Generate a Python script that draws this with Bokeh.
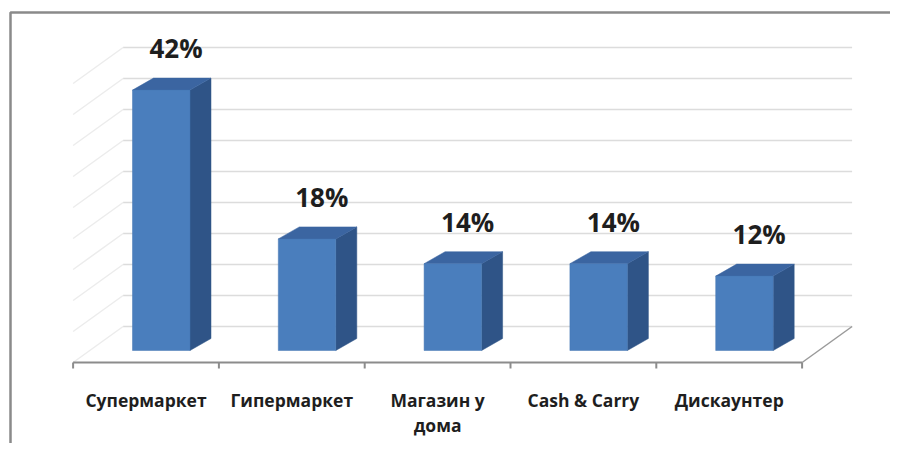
from bokeh.plotting import figure
from bokeh.models import Range1d
from bokeh.core.properties import value
from bokeh.embed import file_html
from bokeh.resources import INLINE

# ---- data ----
categories = ["Супермаркет", "Гипермаркет", "Магазин у дома", "Cash & Carry", "Дискаунтер"]
tick_labels = ["Супермаркет", "Гипермаркет", "Магазин у\nдома", "Cash & Carry", "Дискаунтер"]
shares = [42, 18, 14, 14, 12]
grid_values = [0, 5, 10, 15, 20, 25, 30, 35, 40, 45]

# ---- layout constants (pixels) ----
W, H = 890, 443
PX = 145.8          # px per category
PY = 6.2            # px per percent
X0_PAGE = 145.5     # page x of first category center
Y0_PAGE = 350.0     # page y of bar base
ORIGIN = 0          # page offset of the canvas
XS = -(X0_PAGE - ORIGIN) / PX
XE = XS + W / PX
YE = (Y0_PAGE - ORIGIN) / PY
YS = YE - H / PY

def dx(px):
    return px / PX

def dy(px):
    return px / PY

p = figure(width=W, height=H, output_backend="svg", toolbar_location=None,
           x_range=Range1d(XS, XE), y_range=Range1d(YS, YE),
           min_border=0, min_border_left=0, min_border_right=0,
           min_border_top=0, min_border_bottom=0)
p.axis.visible = False
p.grid.visible = False
p.outline_line_color = None
p.background_fill_color = "white"
p.border_fill_color = "white"

n = len(categories)
FLOOR_FRONT = -dy(12)
DEPTH_X = dx(50)
DEPTH_Y = dy(36)
BACK0 = FLOOR_FRONT + DEPTH_Y

# back wall horizontal gridlines
p.segment(x0=[-0.5 + DEPTH_X] * len(grid_values), x1=[n - 0.5 + DEPTH_X] * len(grid_values),
          y0=[BACK0 + g for g in grid_values], y1=[BACK0 + g for g in grid_values],
          line_color="#dcdcdc", line_width=1.5)
# left wall diagonals
p.segment(x0=[-0.5] * len(grid_values), x1=[-0.5 + DEPTH_X] * len(grid_values),
          y0=[FLOOR_FRONT + g for g in grid_values], y1=[BACK0 + g for g in grid_values],
          line_color="#ececec", line_width=1.5)
# floor right diagonal
p.segment(x0=[n - 0.5], x1=[n - 0.5 + DEPTH_X], y0=[FLOOR_FRONT], y1=[BACK0],
          line_color="#9a9a9a", line_width=1.5)
# floor front line (axis)
p.segment(x0=[-0.5], x1=[n - 0.5], y0=[FLOOR_FRONT], y1=[FLOOR_FRONT],
          line_color="#8c8c8c", line_width=2)
# ticks
tick_x = [i - 0.5 for i in range(n + 1)]
p.segment(x0=tick_x, x1=tick_x, y0=[FLOOR_FRONT] * len(tick_x),
          y1=[FLOOR_FRONT - dy(6)] * len(tick_x), line_color="#8c8c8c", line_width=2)

# bars
BW = dx(57.5)
BOFF = dx(13.5)
BDX = dx(21)
BDY = dy(12)
lefts = [i - BOFF for i in range(n)]
rights = [l + BW for l in lefts]
side_xs, side_ys, top_xs, top_ys = [], [], [], []
for l, r, v in zip(lefts, rights, shares):
    side_xs.append([r, r + BDX, r + BDX, r])
    side_ys.append([0, BDY, v + BDY, v])
    top_xs.append([l, r, r + BDX, l + BDX])
    top_ys.append([v, v, v + BDY, v + BDY])
p.patches(side_xs, side_ys, fill_color="#2f5487", line_color="#2f5487", line_width=0.5)
p.patches(top_xs, top_ys, fill_color="#3b65a1", line_color="#3b65a1", line_width=0.5)
p.quad(left=lefts, right=rights, bottom=[0] * n, top=shares,
       fill_color="#4a7ebd", line_color="#4577b3", line_width=0.5)

# value labels
p.text(x=[i + dx(30) for i in range(n)], y=[v + dy(42) for v in shares],
       text=[f"{v}%" for v in shares], text_font=value("Open Sans"),
       text_font_style="bold", text_font_size="26px", text_color="#1e1e1e",
       text_align="center", text_baseline="middle")

# category labels
p.text(x=list(range(n)), y=[FLOOR_FRONT - dy(25)] * n, text=tick_labels,
       text_font=value("Open Sans"), text_font_style="bold", text_font_size="17.5px",
       text_color="#1e1e1e", text_align="center", text_baseline="top",
       text_line_height=1.05)

# chart border (top and left edges)
bx = XS + dx(10)
by = YE - dy(12)
p.line(x=[bx, bx, XE], y=[YS, by, by], line_color="#8a8a8a", line_width=2.5)

open("out.html", "w").write(file_html(p, INLINE))
